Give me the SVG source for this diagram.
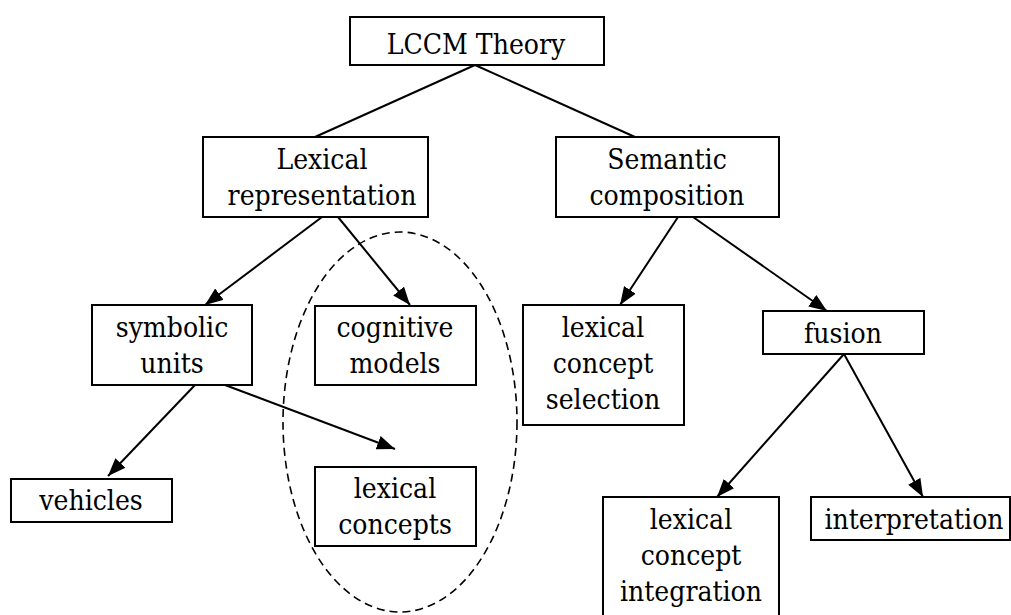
<svg xmlns="http://www.w3.org/2000/svg" width="1011" height="615" viewBox="0 0 1011 615">
<style>
.box{fill:#fff;stroke:#000;stroke-width:2}
.t{font-family:'DejaVu Serif Condensed','DejaVu Serif','Liberation Serif',serif;font-stretch:condensed;font-size:28px;fill:#000;text-anchor:middle}
.c{stroke:#000;stroke-width:2;fill:none}
.a{marker-end:url(#arr)}
.grp{fill:none;stroke:#000;stroke-width:1.6;stroke-dasharray:8,5}
</style>
<defs>
<marker id="arr" markerUnits="userSpaceOnUse" markerWidth="20" markerHeight="16" refX="18" refY="7" orient="auto">
<path d="M0,0 L18,7 L0,14 Z" fill="#000"/>
</marker>
</defs>
<rect width="1011" height="615" fill="#fff"/>
<ellipse id="group-ellipse" class="grp" cx="400" cy="422" rx="117" ry="190"/>
<g id="connectors">
<line class="c" x1="475" y1="65" x2="315" y2="137"/>
<line class="c" x1="475" y1="65" x2="635" y2="137"/>
<line class="c a" x1="322" y1="217" x2="205" y2="305"/>
<line class="c a" x1="338" y1="217" x2="410" y2="305"/>
<line class="c a" x1="678" y1="217" x2="620" y2="305"/>
<line class="c a" x1="693" y1="217" x2="827" y2="311"/>
<line class="c a" x1="195" y1="385" x2="108" y2="476"/>
<line class="c a" x1="225" y1="385" x2="395" y2="449"/>
<line class="c a" x1="844" y1="354" x2="717" y2="497"/>
<line class="c a" x1="844" y1="354" x2="923" y2="497"/>
</g>
<g class="t">
<g id="lccm"><rect class="box" x="350" y="17" width="254" height="48"/><text x="476" y="54">LCCM Theory</text></g>
<g id="lexrep"><rect class="box" x="203" y="137" width="225" height="80"/><text x="322" y="169">Lexical</text><text x="322" y="205">representation</text></g>
<g id="semcomp"><rect class="box" x="556" y="137" width="223" height="80"/><text x="667" y="169">Semantic</text><text x="667" y="205">composition</text></g>
<g id="symunits"><rect class="box" x="92" y="305" width="160" height="80"/><text x="172" y="337">symbolic</text><text x="172" y="373">units</text></g>
<g id="cogmodels"><rect class="box" x="315" y="306" width="161" height="79"/><text x="395" y="337">cognitive</text><text x="395" y="373">models</text></g>
<g id="lexconcepts"><rect class="box" x="315" y="467" width="161" height="79"/><text x="395" y="498">lexical</text><text x="395" y="534">concepts</text></g>
<g id="lcselection"><rect class="box" x="523" y="305" width="161" height="120"/><text x="603" y="337">lexical</text><text x="603" y="373">concept</text><text x="603" y="409">selection</text></g>
<g id="fusion"><rect class="box" x="763" y="311" width="161" height="43"/><text x="843" y="343">fusion</text></g>
<g id="vehicles"><rect class="box" x="11" y="479" width="161" height="43"/><text x="91" y="510">vehicles</text></g>
<g id="lcintegration"><rect class="box" x="603" y="497" width="176" height="130"/><text x="691" y="529">lexical</text><text x="691" y="565">concept</text><text x="691" y="601">integration</text></g>
<g id="interpretation"><rect class="box" x="811" y="497" width="199" height="43"/><text x="914" y="529">interpretation</text></g>
</g>
</svg>
